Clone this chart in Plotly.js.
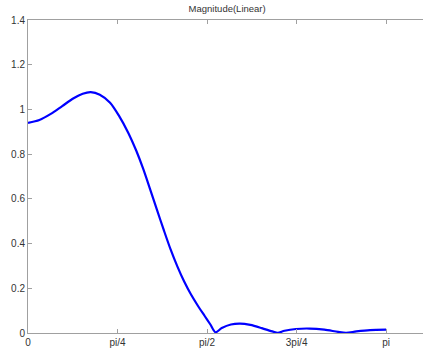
<!DOCTYPE html>
<html>
<head>
<meta charset="utf-8">
<script src="https://cdn.plot.ly/plotly-3.0.1.min.js"></script>
<style>
html,body{margin:0;padding:0;overflow:hidden;background:#fff;width:423px;height:348px;}
#chart{width:427px;height:348px;}
</style>
</head>
<body>
<div id="chart"></div>
<script>
const freq = [0, 0.10, 0.20, 0.30, 0.40, 0.48, 0.55, 0.63, 0.72, 0.80, 0.88, 0.95, 1.01, 1.07, 1.13, 1.19, 1.25, 1.31, 1.37, 1.43, 1.49, 1.55, 1.60, 1.645, 1.70, 1.78, 1.86, 1.95, 2.05, 2.15, 2.19, 2.25, 2.35, 2.47, 2.60, 2.72, 2.79, 2.88, 3.00, 3.1416];
const magnitude = [0.940, 0.953, 0.980, 1.015, 1.050, 1.070, 1.077, 1.066, 1.030, 0.970, 0.895, 0.815, 0.735, 0.645, 0.553, 0.462, 0.375, 0.298, 0.230, 0.172, 0.122, 0.076, 0.038, 0.003, 0.022, 0.038, 0.042, 0.036, 0.022, 0.006, 0.001, 0.010, 0.018, 0.020, 0.015, 0.005, 0.001, 0.007, 0.013, 0.015];
const xTickVals = [0, Math.PI/4, Math.PI/2, 3*Math.PI/4, Math.PI];
const xTickText = ["0", "pi/4", "pi/2", "3pi/4", "pi"];
const yTickVals = [0, 0.2, 0.4, 0.6, 0.8, 1, 1.2, 1.4];
const titleText = "Magnitude(Linear)";

const trace = {
  x: freq, y: magnitude, type: 'scatter', mode: 'lines',
  line: {color: '#0000ff', width: 2.2, shape: 'spline', smoothing: 0.8},
  hoverinfo: 'skip'
};
const axisCommon = {
  showgrid: false, zeroline: false, showline: true, linecolor: '#a0a0a0', linewidth: 1,
  mirror: 'ticks', ticks: 'inside', ticklen: 4, tickcolor: '#a0a0a0', tickwidth: 1,
  tickfont: {family: 'Liberation Sans, Arial, sans-serif', size: 10, color: '#333'}
};
const layout = {
  width: 427, height: 348,
  margin: {l: 28, r: 0, t: 20, b: 15},
  paper_bgcolor: '#fff', plot_bgcolor: '#fff',
  showlegend: false,
  title: {text: titleText, font: {family: 'Liberation Sans, Arial, sans-serif', size: 9.5, color: '#333'},
          x: 0.532, xanchor: 'center', xref: 'container', y: 0.975, yanchor: 'middle', yref: 'container'},
  xaxis: Object.assign({}, axisCommon, {range: [0, 3.5], tickmode: 'array', tickvals: xTickVals, ticktext: xTickText}),
  yaxis: Object.assign({}, axisCommon, {range: [0, 1.4], tickmode: 'array', tickvals: yTickVals})
};
Plotly.newPlot('chart', [trace], layout, {displayModeBar: false, staticPlot: true});
</script>
</body>
</html>
